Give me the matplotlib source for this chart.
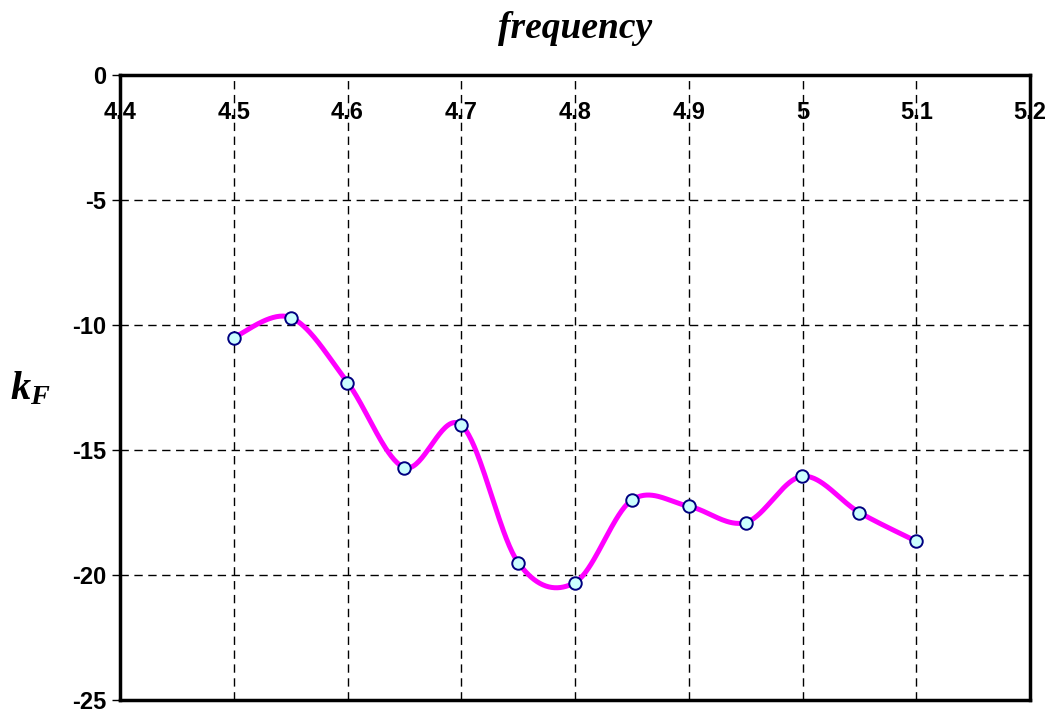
import numpy as np
import matplotlib
matplotlib.use("Agg")
import matplotlib.pyplot as plt
from matplotlib.ticker import MultipleLocator, FuncFormatter

freq = [4.50, 4.55, 4.60, 4.65, 4.70, 4.75, 4.80, 4.85, 4.90, 4.95, 5.00, 5.05, 5.10]
kF = [-10.5, -9.7, -12.3, -15.7, -14.0, -19.5, -20.3, -17.0, -17.25, -17.9, -16.05, -17.5, -18.65]

plt.rcParams['mathtext.fontset'] = 'custom'
plt.rcParams['mathtext.it'] = 'Liberation Serif:bold:italic'
plt.rcParams['mathtext.rm'] = 'Liberation Serif:bold:italic'


def smooth(x, y, n=40):
    # Excel-like smoothed line (Catmull-Rom style Bezier through points)
    x = np.asarray(x, float); y = np.asarray(y, float)
    P = np.column_stack([x, y])
    out = []
    for i in range(len(P) - 1):
        p0 = P[i - 1] if i > 0 else P[i]
        p1 = P[i]; p2 = P[i + 1]
        p3 = P[i + 2] if i + 2 < len(P) else P[i + 1]
        c1 = p1 + (p2 - p0) / 6.0
        c2 = p2 - (p3 - p1) / 6.0
        t = np.linspace(0, 1, n)[:, None]
        seg = ((1 - t) ** 3) * p1 + 3 * ((1 - t) ** 2) * t * c1 + 3 * (1 - t) * t ** 2 * c2 + t ** 3 * p2
        out.append(seg if i == 0 else seg[1:])
    s = np.vstack(out)
    return s[:, 0], s[:, 1]


fig = plt.figure(figsize=(10.55, 7.13), dpi=100)
ax = fig.add_axes([120 / 1055, 13 / 713, 910 / 1055, 625 / 713])

sx, sy = smooth(freq, kF)
ax.plot(sx, sy, color='#ff00ff', lw=3.6, zorder=3, solid_capstyle='round')
ax.plot(freq, kF, ls='none', marker='o', ms=9, mfc='#ccffff', mec='#000080', mew=1.4, zorder=4)

ax.set_xlim(4.4, 5.2)
ax.set_ylim(-25, 0)
ax.xaxis.set_major_locator(MultipleLocator(0.1))
ax.yaxis.set_major_locator(MultipleLocator(5))
ax.xaxis.set_major_formatter(FuncFormatter(lambda v, p: ('%g' % round(v, 2))))
ax.yaxis.set_major_formatter(FuncFormatter(lambda v, p: ('%g' % round(v, 2))))

ax.grid(True, color='black', ls=(0, (6, 4)), lw=1.0)
ax.set_axisbelow(True)

ax.xaxis.tick_top()
ax.tick_params(axis='x', top=True, bottom=False, labeltop=True, labelbottom=False,
               length=0, pad=-35)
ax.tick_params(axis='y', direction='out', length=6, width=1, pad=4)
for lab in ax.get_xticklabels() + ax.get_yticklabels():
    lab.set_fontfamily('Liberation Sans')
    lab.set_fontweight('bold')
    lab.set_fontsize(17)

for sp in ax.spines.values():
    sp.set_linewidth(2.5)
    sp.set_color('black')

fig.text(575 / 1055, 1 - 28 / 713, 'frequency', ha='center', va='center',
         fontfamily='Liberation Serif', fontstyle='italic', fontweight='bold', fontsize=27)
fig.text(30 / 1055, 1 - 388 / 713, r'$k_F$', ha='center', va='center', fontsize=29)

fig.savefig('out.png', dpi=100)
